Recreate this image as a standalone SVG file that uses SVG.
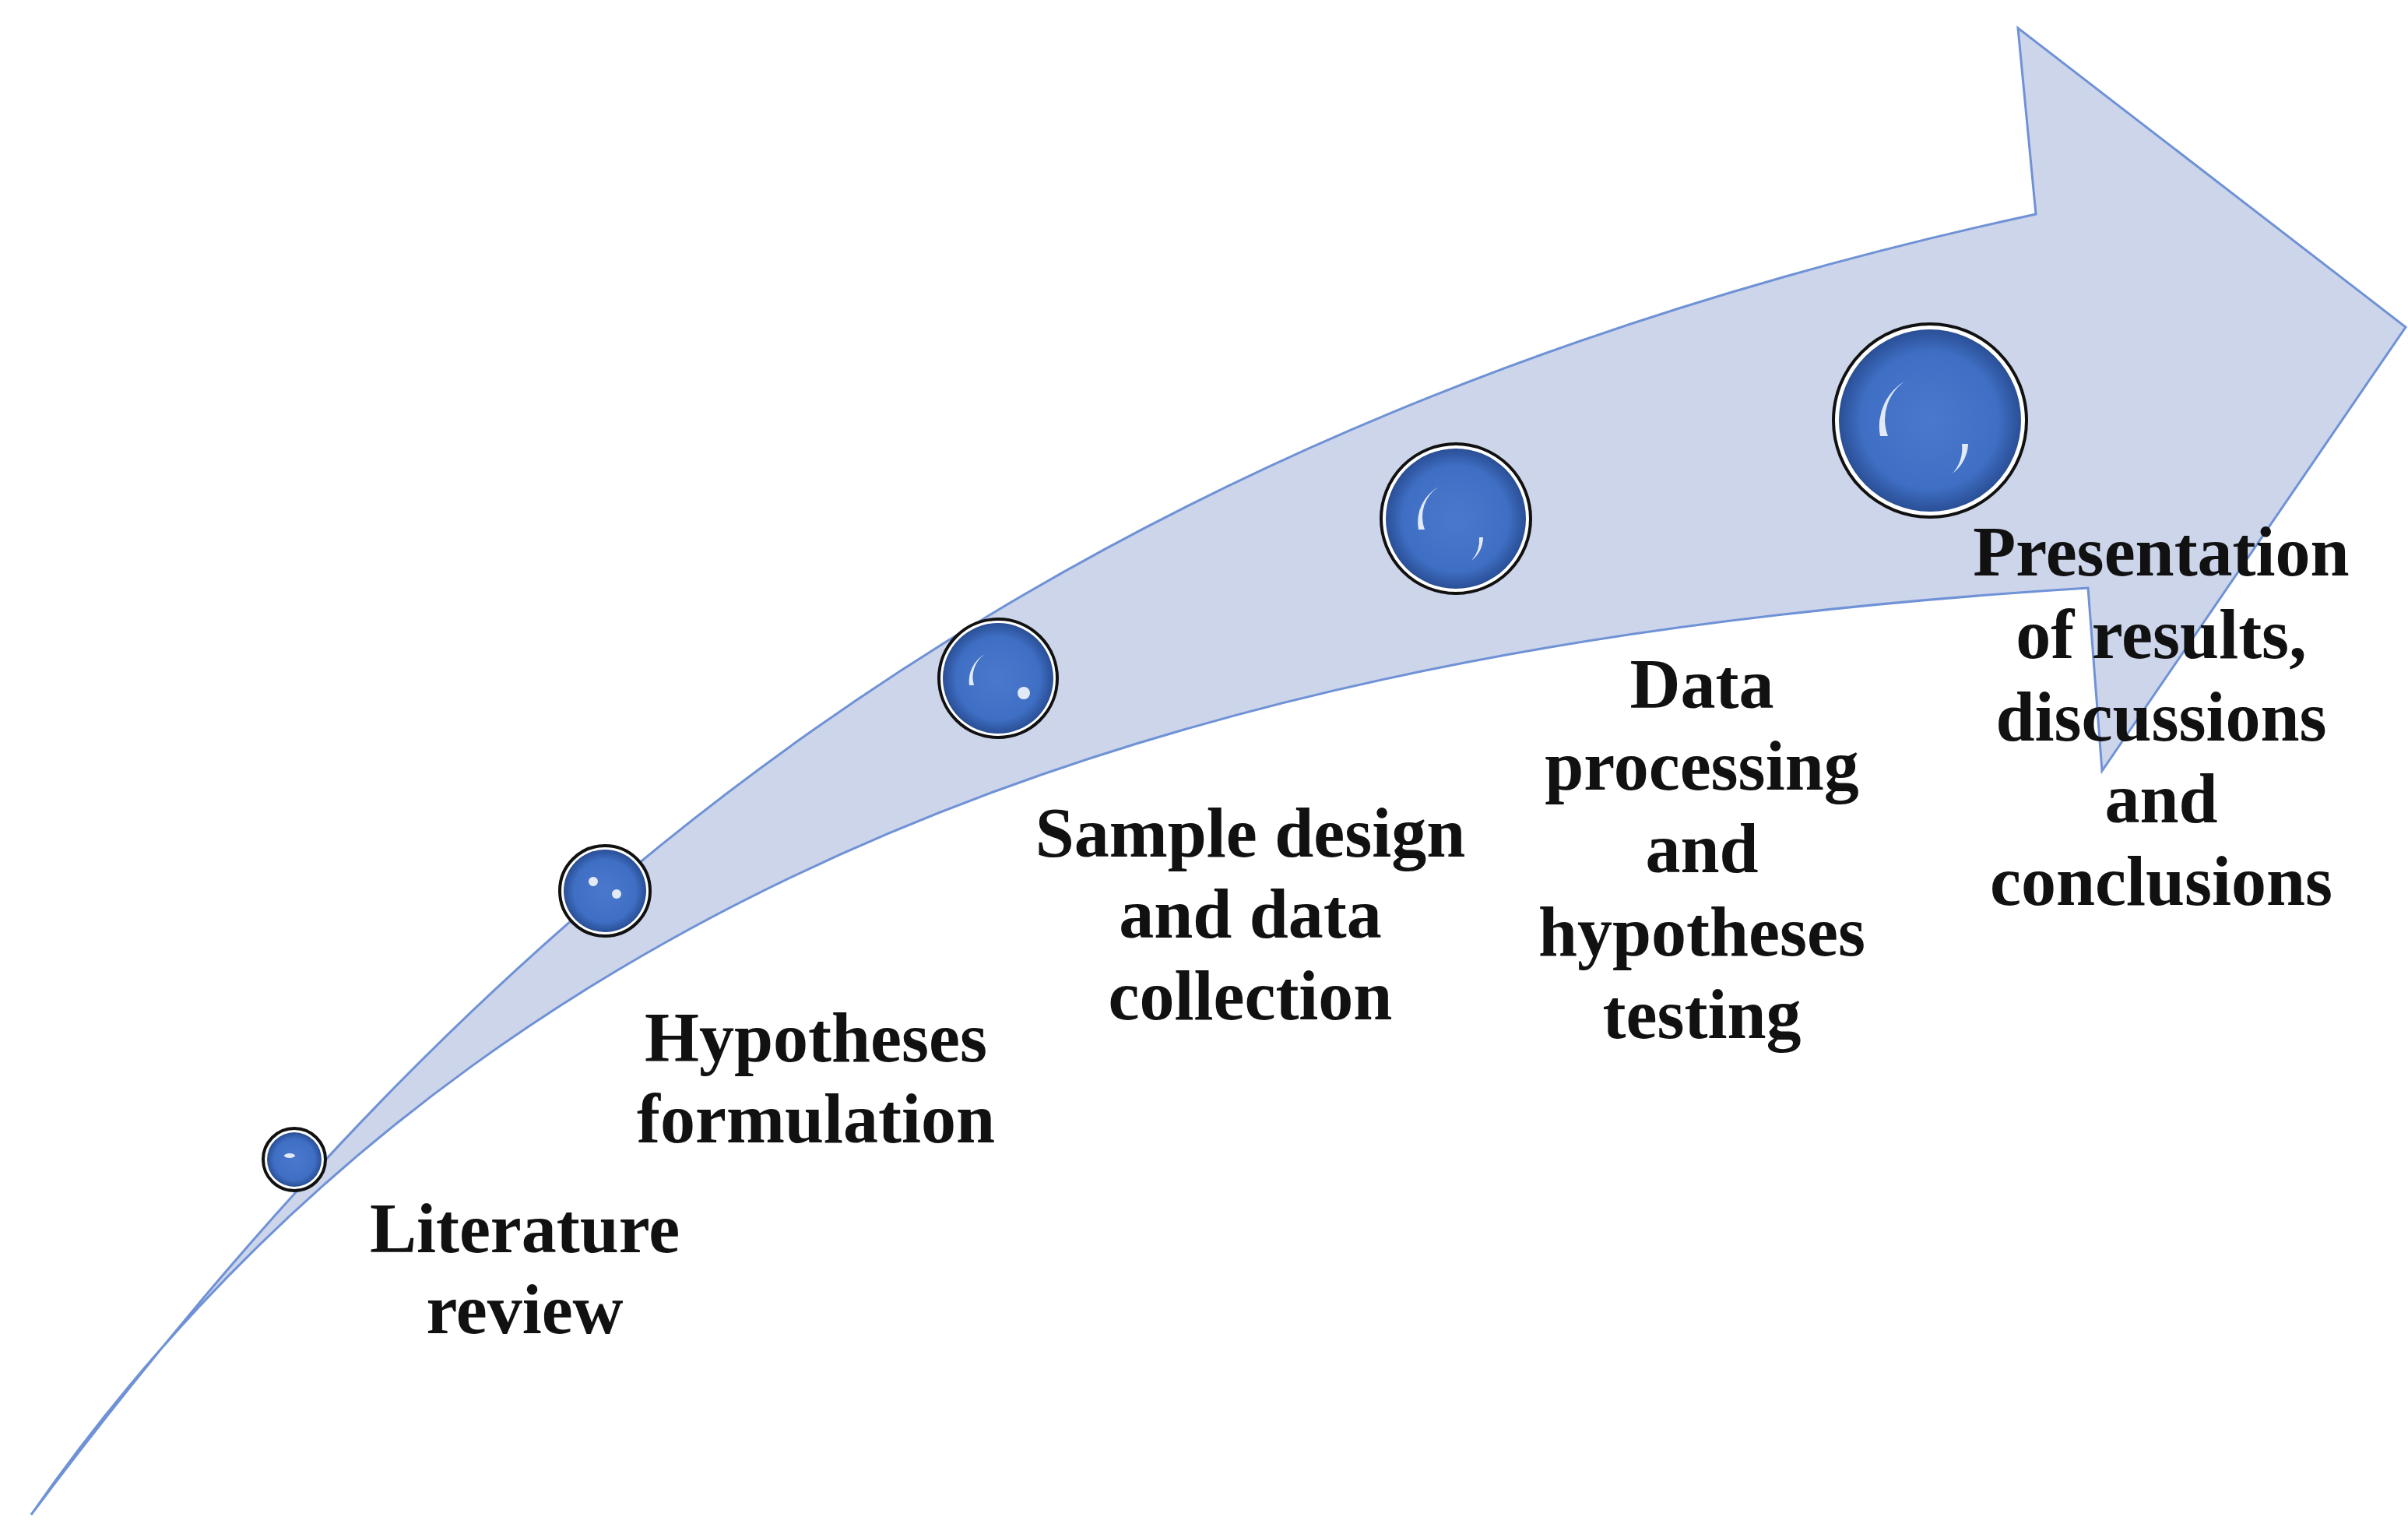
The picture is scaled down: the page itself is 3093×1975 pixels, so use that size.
<svg xmlns="http://www.w3.org/2000/svg" width="3093" height="1975" viewBox="0 0 3093 1975">
<style>
.t{font-family:"Liberation Serif","DejaVu Serif",serif;font-weight:bold;font-size:90px;fill:#111;text-anchor:middle}
.ring{fill:#fff;stroke:#111;stroke-width:4}
.ball{fill:url(#g)}
.hl{fill:#fff;opacity:0.85}
</style>
<defs>
<radialGradient id="g" cx="0.5" cy="0.5" r="0.5">
<stop offset="0" stop-color="#4a78cc"/>
<stop offset="0.75" stop-color="#3f6fc4"/>
<stop offset="1" stop-color="#2a4f96"/>
</radialGradient>
</defs>
<rect width="3093" height="1975" fill="#fff"/>
<g id="arrow">
<path d="M40,1945 C 600,1200 1300,560 2615,275 L 2592,36 L 3090,420 L 2700,990 L 2682,755 C 1800,810 700,1000 40,1945 Z" fill="#cdd5ea" stroke="#6f92d6" stroke-width="3"/>
</g>
<g id="c1"><circle class="ring" cx="378" cy="1489" r="40"/><circle class="ball" cx="378" cy="1489" r="35"/><ellipse class="hl" cx="372" cy="1484" rx="7" ry="3"/></g>
<g id="c2"><circle class="ring" cx="777" cy="1144" r="58"/><circle class="ball" cx="777" cy="1144" r="53"/><circle class="hl" cx="762" cy="1132" r="6"/><circle class="hl" cx="792" cy="1148" r="6"/></g>
<g id="c3"><circle class="ring" cx="1282" cy="871" r="76"/><circle class="ball" cx="1282" cy="871" r="71"/><path class="hl" d="M1245,880 a40,40 0 0 1 20,-40 a36,36 0 0 0 -14,40 z"/><circle class="hl" cx="1315" cy="890" r="8"/></g>
<g id="c4"><circle class="ring" cx="1870" cy="666" r="96"/><circle class="ball" cx="1870" cy="666" r="90"/><path class="hl" d="M1822,680 a52,52 0 0 1 26,-55 a46,46 0 0 0 -18,55 z"/><path class="hl" d="M1905,690 a40,40 0 0 1 -15,30 a40,40 0 0 0 10,-30 z"/></g>
<g id="c5"><circle class="ring" cx="2479" cy="540" r="124"/><circle class="ball" cx="2479" cy="540" r="117"/><path class="hl" d="M2415,560 a68,68 0 0 1 34,-72 a60,60 0 0 0 -24,72 z"/><path class="hl" d="M2528,570 a50,50 0 0 1 -20,38 a50,50 0 0 0 12,-38 z"/></g>
<g id="l1"><text class="t" x="674" y="1608">Literature</text><text class="t" x="674" y="1712">review</text></g>
<g id="l2"><text class="t" x="1048" y="1363">Hypotheses</text><text class="t" x="1048" y="1467">formulation</text></g>
<g id="l3"><text class="t" x="1606" y="1100">Sample design</text><text class="t" x="1606" y="1204">and data</text><text class="t" x="1606" y="1309">collection</text></g>
<g id="l4"><text class="t" x="2186" y="909">Data</text><text class="t" x="2186" y="1014">processing</text><text class="t" x="2186" y="1120">and</text><text class="t" x="2186" y="1227">hypotheses</text><text class="t" x="2186" y="1333">testing</text></g>
<g id="l5"><text class="t" x="2776" y="739">Presentation</text><text class="t" x="2776" y="845">of results,</text><text class="t" x="2776" y="951">discussions</text><text class="t" x="2776" y="1056">and</text><text class="t" x="2776" y="1162">conclusions</text></g>
</svg>
